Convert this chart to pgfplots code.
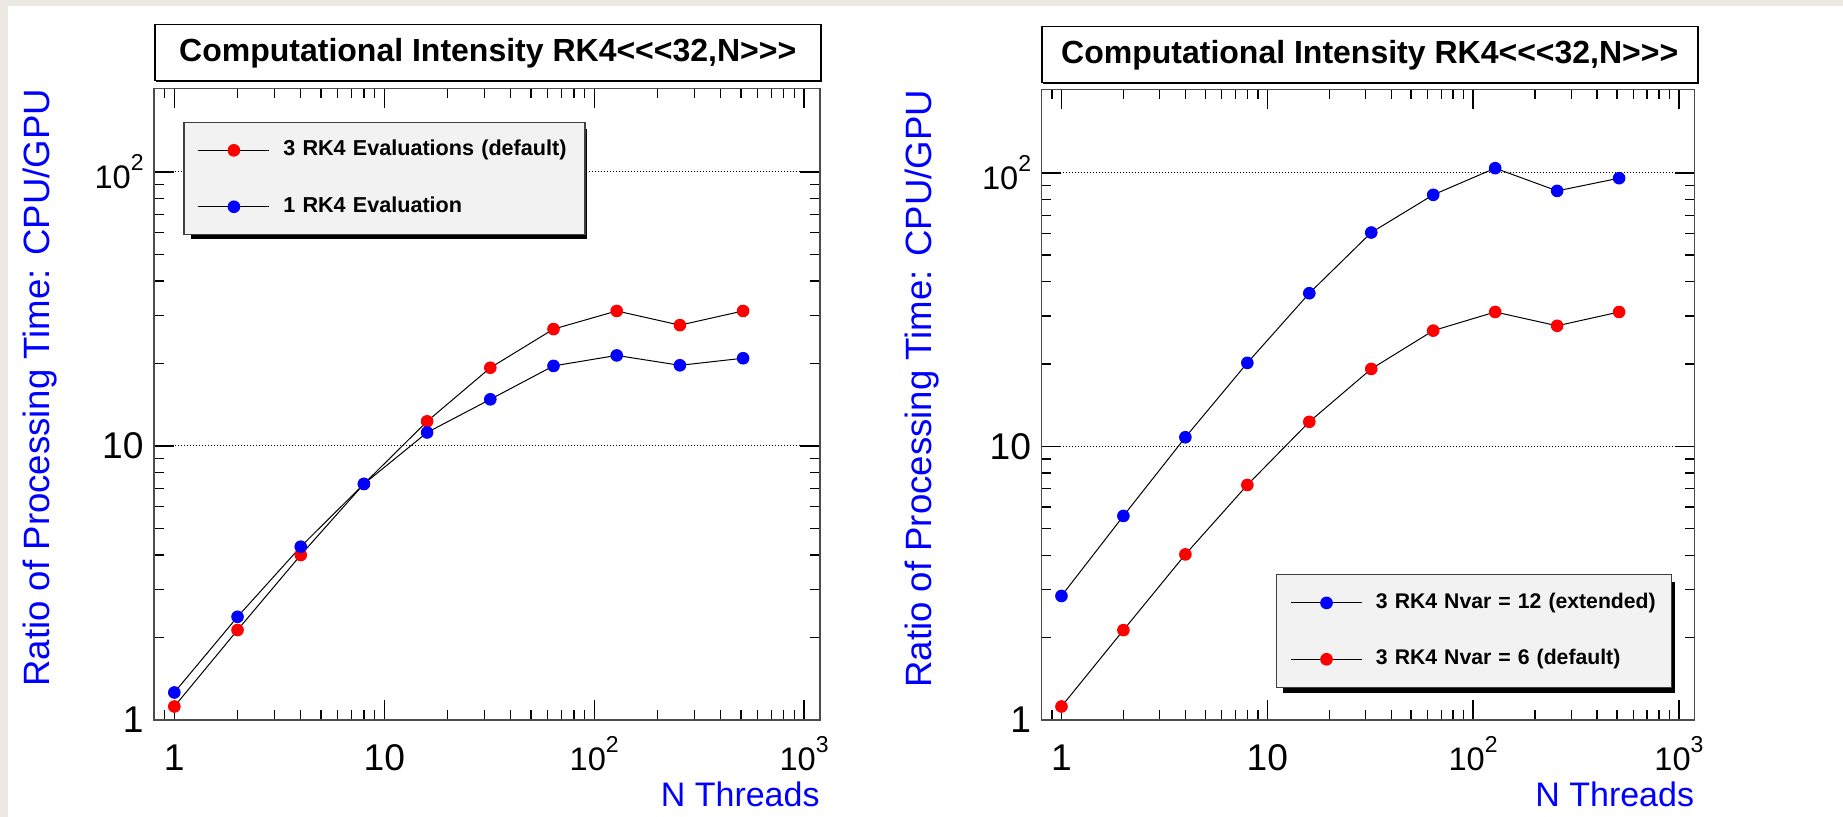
\documentclass[border=0pt]{standalone}
\usepackage{fontspec}
\setmainfont{Liberation Sans}
\usepackage{pgfplots}
\pgfplotsset{compat=1.18}
\definecolor{bgbeige}{RGB}{236,233,227}
\definecolor{legfill}{RGB}{242,242,242}
\newcommand{\tenpow}[1]{{\fontsize{16.3}{18}\selectfont 10}\raisebox{9pt}{\fontsize{11.5}{12}\selectfont #1}}

\begin{document}
\begin{tikzpicture}
\fill[bgbeige] (0,0) rectangle (921.5pt,408.5pt);
\fill[white] (4pt,0) rectangle (921.5pt,405.5pt);

% Left panel
\begin{axis}[
  at={(77pt,48.5pt)}, anchor=south west,
  scale only axis, width=333pt, height=315.85pt,
  xmode=log, ymode=log,
  xmin=0.8, xmax=1190, ymin=1, ymax=202,
  xtick={1,10,100,1000}, xticklabels={1,10,\tenpow{2},\tenpow{3}},
  ytick={1,10,100}, yticklabels={1,10,\tenpow{2}},
  minor xtick={0.9,2,3,4,5,6,7,8,9,20,30,40,50,60,70,80,90,200,300,400,500,600,700,800,900},
  minor ytick={2,3,4,5,6,7,8,9,20,30,40,50,60,70,80,90},
  ymajorgrids,
  major grid style={black, dash pattern=on 0.5pt off 1pt, line width=0.5pt},
  axis line style={draw=black!70, line width=0.75pt},
  tick style={black, line width=0.7pt},
  major tick length=10pt, minor tick length=5pt,
  tick label style={font=\fontsize{18.6}{20}\selectfont},
  xticklabel style={anchor=base, inner sep=0pt, yshift=-25.5pt},
  yticklabel style={inner sep=0pt, xshift=-5pt},
  xlabel={N Threads},
  ylabel={Ratio of Processing Time: CPU/GPU},
  xlabel style={at={(axis description cs:1,-0.1377)}, anchor=base east, font=\fontsize{17}{20}\selectfont, text=blue, inner sep=0pt},
  ylabel style={at={(axis description cs:-0.1562,1)}, anchor=base east, font=\fontsize{18.3}{20}\selectfont, text=blue, inner sep=0pt},
  legend cell align=left,
  legend image code/.code={\draw[#1, mark repeat=2, mark phase=2] plot coordinates {(0pt,0pt) (17.75pt,0pt) (35.5pt,0pt)};},
  legend style={at={(0.044,0.947)}, anchor=north west, fill=legfill, draw=black!75, line width=0.6pt,
    inner xsep=7pt, inner ysep=9pt, row sep=18.2pt, column sep=6.7pt,
    font=\bfseries\fontsize{10.8}{12}\selectfont,
    nodes={inner sep=0pt, text height=7.7pt, text depth=2.3pt, text width=143.8pt}},
]
\fill[black] (rel axis cs:0.0563,0.7607) rectangle (rel axis cs:0.6509,0.9348);
\addplot[black, line width=0.5pt, mark=*, mark size=2.9pt, mark options={draw=red, fill=red, solid}] coordinates {(1,1.12) (2,2.13) (4,4.0) (8,7.27) (16,12.3) (32,19.3) (64,26.7) (128,31.1) (256,27.6) (512,31.1)};
\addlegendentry{\mbox{3 RK4 Evaluations (default)}}
\addplot[black, line width=0.5pt, mark=*, mark size=2.9pt, mark options={draw=blue, fill=blue, solid}] coordinates {(1,1.26) (2,2.38) (4,4.29) (8,7.27) (16,11.2) (32,14.8) (64,19.6) (128,21.4) (256,19.7) (512,20.9)};
\addlegendentry{\mbox{1 RK4 Evaluation}}
\end{axis}

% Right panel
\begin{axis}[
  at={(520.75pt,48.5pt)}, anchor=south west,
  scale only axis, width=326.5pt, height=315.35pt,
  xmode=log, ymode=log,
  xmin=0.8, xmax=1190, ymin=1, ymax=202,
  xtick={1,10,100,1000}, xticklabels={1,10,\tenpow{2},\tenpow{3}},
  ytick={1,10,100}, yticklabels={1,10,\tenpow{2}},
  minor xtick={0.9,2,3,4,5,6,7,8,9,20,30,40,50,60,70,80,90,200,300,400,500,600,700,800,900},
  minor ytick={2,3,4,5,6,7,8,9,20,30,40,50,60,70,80,90},
  ymajorgrids,
  major grid style={black, dash pattern=on 0.5pt off 1pt, line width=0.5pt},
  axis line style={draw=black!70, line width=0.75pt},
  tick style={black, line width=0.7pt},
  major tick length=10pt, minor tick length=5pt,
  tick label style={font=\fontsize{18.6}{20}\selectfont},
  xticklabel style={anchor=base, inner sep=0pt, yshift=-25.5pt},
  yticklabel style={inner sep=0pt, xshift=-5pt},
  xlabel={N Threads},
  ylabel={Ratio of Processing Time: CPU/GPU},
  xlabel style={at={(axis description cs:1,-0.1379)}, anchor=base east, font=\fontsize{17}{20}\selectfont, text=blue, inner sep=0pt},
  ylabel style={at={(axis description cs:-0.1686,1)}, anchor=base east, font=\fontsize{18.3}{20}\selectfont, text=blue, inner sep=0pt},
  legend cell align=left,
  legend image code/.code={\draw[#1, mark repeat=2, mark phase=2] plot coordinates {(0pt,0pt) (17.75pt,0pt) (35.5pt,0pt)};},
  legend style={at={(0.359,0.231)}, anchor=north west, fill=legfill, draw=black!75, line width=0.6pt,
    inner xsep=7pt, inner ysep=9pt, row sep=18.2pt, column sep=6.7pt,
    font=\bfseries\fontsize{10.6}{12}\selectfont,
    nodes={inner sep=0pt, text height=7.7pt, text depth=2.3pt, text width=140.8pt}},
]
\fill[black] (rel axis cs:0.3698,0.0433) rectangle (rel axis cs:0.9701,0.2188);
\addplot[black, line width=0.5pt, mark=*, mark size=2.9pt, mark options={draw=blue, fill=blue, solid}] coordinates {(1,2.84) (2,5.57) (4,10.8) (8,20.2) (16,36.3) (32,60.5) (64,83.1) (128,104) (256,85.9) (512,95.6)};
\addlegendentry{\mbox{3 RK4 Nvar = 12 (extended)}}
\addplot[black, line width=0.5pt, mark=*, mark size=2.9pt, mark options={draw=red, fill=red, solid}] coordinates {(1,1.12) (2,2.13) (4,4.03) (8,7.23) (16,12.3) (32,19.2) (64,26.5) (128,31) (256,27.6) (512,31)};
\addlegendentry{\mbox{3 RK4 Nvar = 6 (default)}}
\end{axis}

% Title boxes
\fill[black] (78.2pt,367.3pt) rectangle (411.2pt,395.3pt);
\node[draw=black, line width=0.75pt, fill=white, minimum width=333pt, minimum height=28pt, anchor=north west, inner sep=0pt,
  font=\bfseries\fontsize{16}{19}\selectfont] at (77pt,396.5pt) {Computational Intensity RK4<{}<{}<32,N>{}>{}>};
\fill[black] (521.7pt,366.3pt) rectangle (849.7pt,394.3pt);
\node[draw=black, line width=0.75pt, fill=white, minimum width=328pt, minimum height=28pt, anchor=north west, inner sep=0pt,
  font=\bfseries\fontsize{16}{19}\selectfont] at (520.5pt,395.5pt) {Computational Intensity RK4<{}<{}<32,N>{}>{}>};

\pgfresetboundingbox
\path[use as bounding box] (0,0) rectangle (921.5pt,408.5pt);
\end{tikzpicture}
\end{document}
